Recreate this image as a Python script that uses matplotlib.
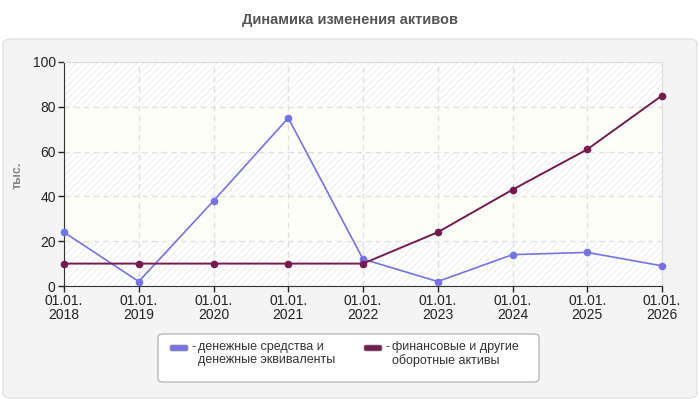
import numpy as np
import matplotlib.pyplot as plt
from matplotlib.patches import FancyBboxPatch, Rectangle

years = ["2018", "2019", "2020", "2021", "2022", "2023", "2024", "2025", "2026"]
cash = [24, 2, 38, 75, 12, 2, 14, 15, 9]
other_assets = [10, 10, 10, 10, 10, 24, 43, 61, 85]
series_names = ["денежные средства и\nденежные эквиваленты",
                "финансовые и другие\nоборотные активы"]
colors = ["#7673e6", "#741b50"]

plt.rcParams["font.family"] = ["Liberation Sans", "DejaVu Sans"]
plt.rcParams["hatch.linewidth"] = 0.8

fig = plt.figure(figsize=(7, 4), dpi=100)
fig.patch.set_facecolor("white")


def px(xp, yp):
    # pixel coords (top-left origin) -> figure fraction
    return xp / 700, 1 - yp / 400


# outer grey panel
panel = FancyBboxPatch(px(3, 398), 694 / 700, 359 / 400,
                       boxstyle="round,pad=0,rounding_size=0.012",
                       transform=fig.transFigure, facecolor="#f4f4f4",
                       edgecolor="#e2e2e2", linewidth=1, zorder=-5)
fig.patches.append(panel)

fig.text(*px(350, 20), "Динамика изменения активов", ha="center", va="center",
         fontsize=10.5, fontweight="bold", color="#555555")

ax = fig.add_axes([64 / 700, 1 - 286 / 400, 598 / 700, 224 / 400])
ax.set_facecolor("white")
x = np.arange(len(years))

# striped background bands
for i, lo in enumerate(range(0, 100, 20)):
    if i % 2 == 0:
        ax.add_patch(Rectangle((x[0], lo), x[-1] - x[0], 20, facecolor="white",
                               edgecolor="#efefef", hatch="/////", linewidth=0, zorder=0))
    else:
        ax.add_patch(Rectangle((x[0], lo), x[-1] - x[0], 20, facecolor="#fefef9",
                               edgecolor="none", linewidth=0, zorder=0))

ax.plot(x, cash, color=colors[0], linewidth=1.2, marker="o", markersize=4.5,
        zorder=3, clip_on=False)
ax.plot(x, other_assets, color=colors[1], linewidth=1.4, marker="o", markersize=4.5,
        zorder=3, clip_on=False)

ax.set_xlim(x[0], x[-1])
ax.set_ylim(0, 100)
ax.set_yticks(range(0, 101, 20))
ax.set_xticks(x)
ax.set_xticklabels(["01.01.\n" + y for y in years], linespacing=0.95)
ax.tick_params(labelsize=10, colors="#222222", length=4, width=1, pad=2)
ax.grid(True, color="#e0e0e0", linestyle=(0, (4, 3)), linewidth=1)
for line in ax.get_xgridlines() + ax.get_ygridlines():
    line.set_zorder(1)

for s in ["top", "right"]:
    ax.spines[s].set_color("#dddddd")
for s in ["left", "bottom"]:
    ax.spines[s].set_color("#333333")

fig.text(*px(18, 175), "тыс.", rotation=90, ha="center", va="center",
         fontsize=9, fontweight="bold", color="#888888")

# legend box drawn by hand
legend_box = FancyBboxPatch(px(158, 382), 381 / 700, 48 / 400,
                            boxstyle="round,pad=0,rounding_size=0.008",
                            transform=fig.transFigure, facecolor="white",
                            edgecolor="#aaaaaa", linewidth=0.8, zorder=1)
fig.patches.append(legend_box)
for name, c, hx in zip(series_names, colors, [170, 364]):
    fig.patches.append(FancyBboxPatch(px(hx, 351), 18 / 700, 6 / 400,
                                      boxstyle="round,pad=0,rounding_size=0.003",
                                      transform=fig.transFigure, facecolor=c,
                                      edgecolor="#999999", linewidth=0.5, zorder=2))
    fig.text(*px(hx + 21, 341), "-", ha="left", va="top", fontsize=9, color="#333333")
    fig.text(*px(hx + 28, 341), name, ha="left", va="top", fontsize=9,
             color="#333333", linespacing=1.15)

fig.savefig("out.png", dpi=100)
